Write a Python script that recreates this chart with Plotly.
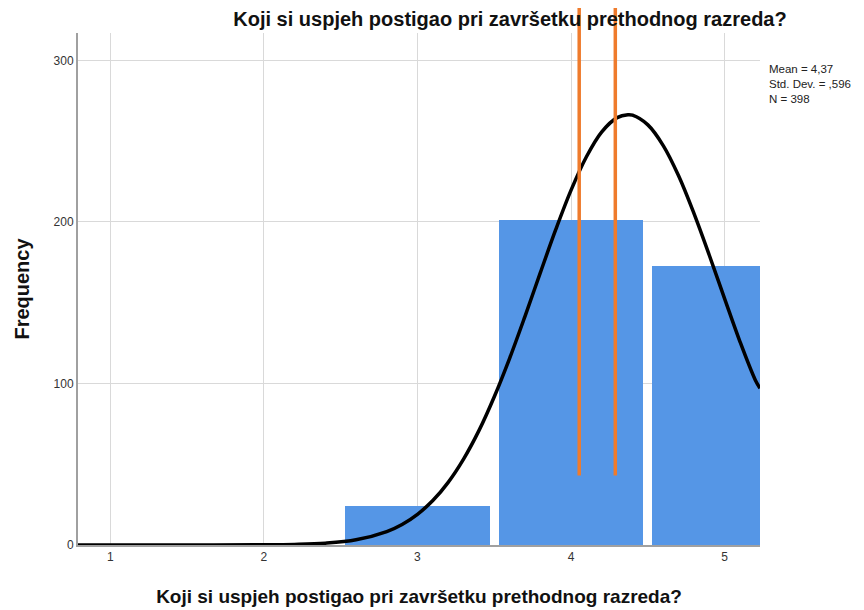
"""
SPSS-style histogram of final grade from the previous school year,
with the fitted normal curve and the summary box on the right.
"""
import plotly.graph_objects as go

# Histogram bins (grade) and their counts
GRADES = [3, 4, 5]
COUNTS = [24, 201, 173]

# Normal curve (grade -> frequency)
CURVE_X = [0.79, 1.0, 1.5, 2.0, 2.2, 2.4, 2.6, 2.8, 2.9, 3.0, 3.1, 3.2, 3.3, 3.4, 3.5,
           3.6, 3.7, 3.8, 3.9, 4.0, 4.1, 4.2, 4.3, 4.37, 4.4, 4.5, 4.6, 4.7, 4.8,
           4.9, 5.0, 5.1, 5.2, 5.23]
CURVE_Y = [0, 0, 0, 0.1, 0.35, 1.1, 3.2, 8.3, 12.7, 19.0, 27.5, 38.8, 53.2, 70.8, 91.8,
           115.6, 141.6, 168.6, 195.2, 219.7, 240.4, 255.8, 264.6, 266.4, 266.1, 260.1, 247.3, 228.6, 205.3,
           179.4, 152.4, 125.8, 102.0, 97.0]

# The two orange reference lines (grade position, lower end in frequency)
MARK_X = [4.053, 4.288]
MARK_Y0 = 43

STATS = ["Mean = 4,37", "Std. Dev. = ,596", "N = 398"]
TITLE = "Koji si uspjeh postigao pri završetku prethodnog razreda?"

BAR_COLOR = '#5596e6'
ORANGE = '#ef7b2c'
GRID = '#d9d9d9'
FONT = 'Liberation Sans, Arial, sans-serif'

X_RANGE = [0.79, 5.23]
Y_RANGE = [0, 317]

fig = go.Figure()

fig.add_trace(go.Bar(
    x=GRADES, y=COUNTS, width=0.94,
    marker=dict(color=BAR_COLOR, line=dict(width=0)),
    showlegend=False
))

fig.add_trace(go.Scatter(
    x=CURVE_X, y=CURVE_Y, mode='lines',
    line=dict(color='black', width=3.5, shape='spline'),
    showlegend=False
))

# Orange lines run from the bars up through the title
for mx in MARK_X:
    y0_paper = (MARK_Y0 - Y_RANGE[0]) / (Y_RANGE[1] - Y_RANGE[0])
    fig.add_shape(type='line', xref='x', yref='paper', x0=mx, x1=mx,
                  y0=y0_paper, y1=1.1, line=dict(color=ORANGE, width=3.5))

fig.add_annotation(
    xref='paper', yref='paper', x=1.0103, y=0.945, xanchor='left', yanchor='top',
    text='<br>'.join(STATS), align='left', showarrow=False,
    font=dict(size=11.5, color='#222222', family=FONT)
)

# margins allow for the 8px body margin of the html page
fig.update_layout(
    width=864, height=610,
    margin=dict(l=70, r=112, t=25, b=73),
    plot_bgcolor='white', paper_bgcolor='white',
    font=dict(family=FONT, size=12, color='#333333'),
    bargap=0,
    title=dict(text=f'<b>{TITLE}</b>', x=0.581, xanchor='center', y=0.982, yanchor='middle',
               font=dict(size=20, color='#111111', family=FONT)),
)

fig.update_xaxes(
    range=X_RANGE, tickvals=[1, 2, 3, 4, 5], ticktext=['1', '2', '3', '4', '5'],
    showgrid=True, gridcolor=GRID, gridwidth=1, zeroline=False, automargin=False,
    showline=True, linecolor='#a0a0a0', linewidth=1.5, ticks='',
    tickfont=dict(size=12, color='#333333'),
    title=dict(text=f'<b>{TITLE}</b>', font=dict(size=19, color='#111111'), standoff=27)
)
fig.update_yaxes(
    range=Y_RANGE, tickvals=[0, 100, 200, 300],
    showgrid=True, gridcolor=GRID, gridwidth=1, zeroline=False, automargin=False,
    showline=True, linecolor='#a0a0a0', linewidth=2, ticks='',
    tickfont=dict(size=12, color='#333333'),
    title=dict(text='<b>Frequency</b>', font=dict(size=20, color='#111111'), standoff=19)
)

fig.write_html("out.html")
